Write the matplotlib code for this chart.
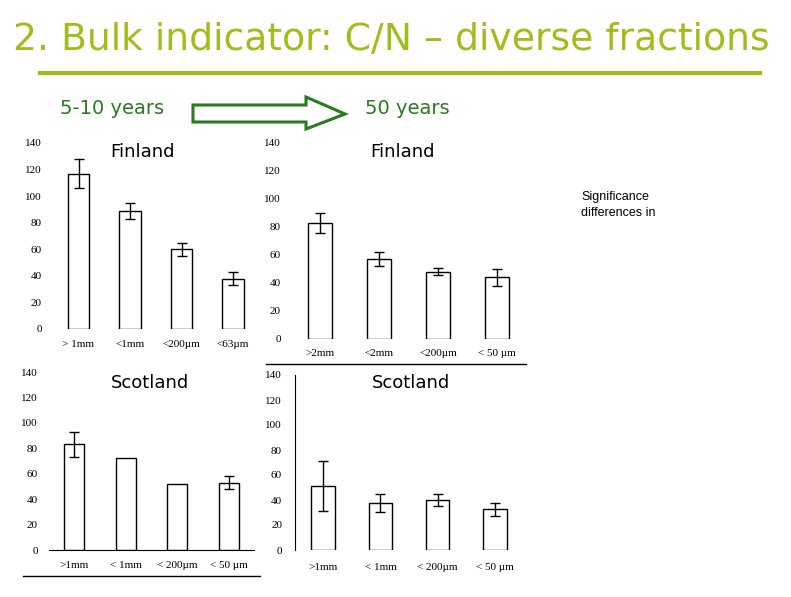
import numpy as np
import matplotlib
matplotlib.use('Agg')
import matplotlib.pyplot as plt
from matplotlib.patches import Polygon

# ___________ data (C/N ratio per fraction) _______________
labels_fin_young = ['> 1mm', '<1mm', '<200\u00b5m', '<63\u00b5m']
fin_young = [117, 89, 60, 38]
fin_young_err = [11, 6, 5, 5]

labels_fin_old = ['>2mm', '<2mm', '<200\u00b5m', '< 50 \u00b5m']
fin_old = [83, 57, 48, 44]
fin_old_err = [7, 5, 2.5, 6]

labels_sco = ['>1mm', '< 1mm', '< 200\u00b5m', '< 50 \u00b5m']
sco_young = [83, 72, 52, 53]
sco_young_err = [9.5, 0, 0, 5]

sco_old = [51, 37.5, 40, 32.5]
sco_old_err = [20, 7, 5, 5.5]

yticks = [0, 20, 40, 60, 80, 100, 120, 140]

W, H = 791, 597
title_green = '#9dbf1a'
dark_green = '#2a7a1e'

fig = plt.figure(figsize=(W / 100, H / 100), dpi=100)
fig.patch.set_facecolor('white')


def px_axes(left, top, right, bottom):
    # pixel box -> figure fraction
    return fig.add_axes([left / W, 1 - bottom / H, (right - left) / W, (bottom - top) / H])


def px_text(x, y, s, **kw):
    fig.text(x / W, 1 - y / H, s, **kw)


def panel(box, values, errs, labels, width, show_left=False, show_bottom=False, label_pad=6):
    ax = px_axes(*box)
    x = np.arange(len(values))
    ax.bar(x, values, width=width, color='white', edgecolor='black', linewidth=1.0)
    e = np.array(errs, dtype=float)
    has = e > 0
    ax.errorbar(x[has], np.array(values)[has], yerr=e[has], fmt='none',
                ecolor='black', elinewidth=1.0, capsize=3.5, capthick=1.0)
    ax.set_xlim(-0.5, len(values) - 0.5)
    ax.set_ylim(0, 140)
    ax.set_yticks(yticks)
    ax.set_xticks(x)
    ax.set_xticklabels(labels)
    for s in ['top', 'right']:
        ax.spines[s].set_visible(False)
    ax.spines['left'].set_visible(show_left)
    ax.spines['bottom'].set_visible(show_bottom)
    ax.tick_params(axis='both', length=0, labelsize=8, pad=label_pad)
    for t in ax.get_xticklabels() + ax.get_yticklabels():
        t.set_fontfamily('Liberation Serif')
    ax.patch.set_alpha(0)
    return ax


# ________ the four panels __________
panel((52.75, 143, 258.75, 329), fin_young, fin_young_err, labels_fin_young, 0.41, label_pad=8)
panel((290.5, 143, 526.5, 339), fin_old, fin_old_err, labels_fin_old, 0.40, label_pad=7)
panel((48.8, 372, 254.2, 550), sco_young, sco_young_err, labels_sco, 0.39,
      show_bottom=True, label_pad=8)
panel((294.6, 375, 523.6, 550), sco_old, sco_old_err, labels_sco, 0.41,
      show_left=True, label_pad=9)

# ________ slide decorations __________
px_text(391, 40, '2. Bulk indicator: C/N \u2013 diverse fractions', ha='center', va='center',
        fontsize=27.2, color=title_green, fontfamily='DejaVu Sans')
fig.add_artist(plt.Line2D([40 / W, 760 / W], [1 - 73 / H, 1 - 73 / H], color=title_green, lw=3))

px_text(60, 109, '5-10 years', ha='left', va='center', fontsize=14, color=dark_green)
px_text(365, 109, '50 years', ha='left', va='center', fontsize=14, color=dark_green)

arrow_px = [(193, 105), (306, 105), (306, 97), (345, 114), (306, 129), (306, 122), (193, 122)]
arrow = Polygon([(x / W, 1 - y / H) for x, y in arrow_px], closed=True,
                facecolor='white', edgecolor=dark_green, lw=2.2, transform=fig.transFigure)
fig.add_artist(arrow)

px_text(142, 152, 'Finland', ha='center', va='center', fontsize=13)
px_text(403, 152, 'Finland', ha='center', va='center', fontsize=13)
px_text(150, 383, 'Scotland', ha='center', va='center', fontsize=13)
px_text(411, 383, 'Scotland', ha='center', va='center', fontsize=13)

px_text(581, 197, 'Significance', ha='left', va='center', fontsize=9, fontfamily='Liberation Sans')
px_text(581, 213, 'differences in', ha='left', va='center', fontsize=9, fontfamily='Liberation Sans')

# separator lines under the panels
fig.add_artist(plt.Line2D([266 / W, 526 / W], [1 - 364 / H, 1 - 364 / H], color='black', lw=1))
fig.add_artist(plt.Line2D([23 / W, 260 / W], [1 - 576 / H, 1 - 576 / H], color='black', lw=1))

fig.savefig('out.png', dpi=100)
